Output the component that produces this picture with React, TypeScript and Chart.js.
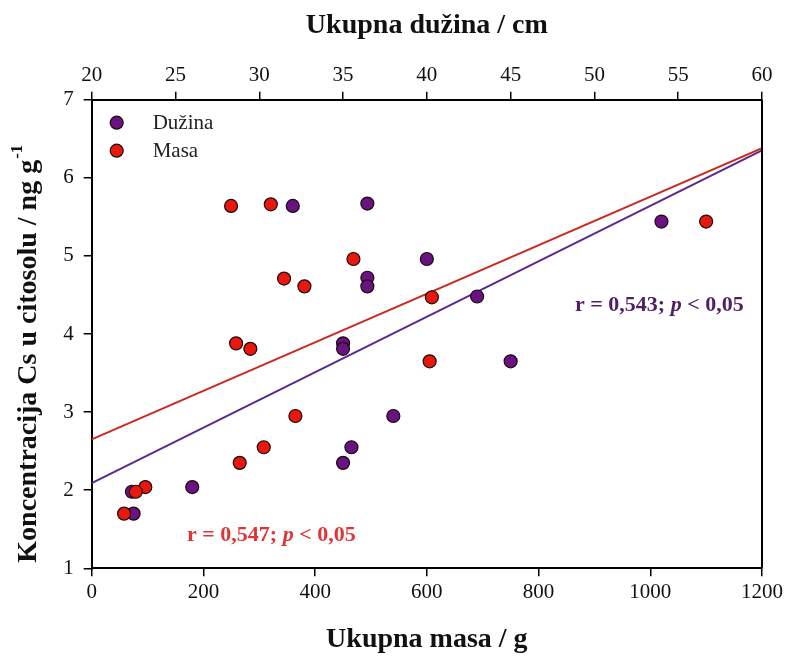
import React, { useEffect, useRef } from 'react';
import { Chart, registerables } from 'chart.js';
Chart.register(...registerables);

// Data
const masaG = [249.5, 320.6, 468.6, 344.4, 380.8, 609, 1100, 258.5, 284, 605, 364.7, 308, 265, 96, 79, 58];
const duzinaCm = [32, 36.45, 40, 36.45, 36.45, 43, 54, 35, 35, 45, 38, 35.5, 35, 26, 22.4, 22.5];
const csMasa = [5.64, 5.66, 4.96, 4.71, 4.61, 4.47, 5.44, 3.88, 3.81, 3.65, 2.95, 2.55, 2.35, 2.04, 1.98, 1.7];
const csDuzina = [5.64, 5.67, 4.96, 4.72, 4.61, 4.48, 5.44, 3.88, 3.81, 3.65, 2.95, 2.55, 2.35, 2.04, 1.98, 1.7];

const fitMasaX = [0, 1200];
const fitMasaY = [2.65, 6.38];
const fitDuzinaX = [20, 60];
const fitDuzinaY = [2.09, 6.35];

const seriesLabels = ['Dužina', 'Masa'];
const statDuzina = ['r = 0,543; ', 'p', ' < 0,05'];
const statMasa = ['r = 0,547; ', 'p', ' < 0,05'];

const PURPLE = '#6a1282';
const RED = '#e8180f';
const PURPLE_LINE = '#5c2a8e';
const RED_LINE = '#c92a22';
const SERIF = '"Liberation Serif", "Times New Roman", serif';

export default function App() {
  const ref = useRef<HTMLCanvasElement | null>(null);
  useEffect(() => {
    document.body.style.margin = '0';
    const canvas = ref.current;
    if (!canvas) return;

    const overlay = {
      id: 'overlay',
      afterDraw(chart: any) {
        const { ctx, chartArea } = chart;
        const ca = chartArea;
        ctx.save();
        // right border
        ctx.strokeStyle = '#000';
        ctx.lineWidth = 2;
        ctx.beginPath();
        ctx.moveTo(ca.right, ca.top);
        ctx.lineTo(ca.right, ca.bottom);
        ctx.stroke();

        // legend
        const colors = [PURPLE, RED];
        seriesLabels.forEach((lab, i) => {
          const cy = ca.top + 23 + i * 28;
          ctx.beginPath();
          ctx.arc(ca.left + 25, cy, 6.5, 0, Math.PI * 2);
          ctx.fillStyle = colors[i];
          ctx.fill();
          ctx.lineWidth = 1.2;
          ctx.strokeStyle = '#1a0a0a';
          ctx.stroke();
          ctx.fillStyle = '#222';
          ctx.font = `21px ${SERIF}`;
          ctx.textAlign = 'left';
          ctx.textBaseline = 'middle';
          ctx.fillText(lab, ca.left + 61, cy + 1);
        });

        // stats annotations
        const drawStat = (parts: string[], x: number, y: number, color: string) => {
          ctx.fillStyle = color;
          ctx.textBaseline = 'middle';
          ctx.textAlign = 'left';
          let cx = x;
          parts.forEach((p, i) => {
            ctx.font = i === 1 ? `italic bold 22px ${SERIF}` : `bold 22px ${SERIF}`;
            ctx.fillText(p, cx, y);
            cx += ctx.measureText(p).width;
          });
        };
        drawStat(statDuzina, 575, 305, '#4f1f66');
        drawStat(statMasa, 187, 535, '#e23434');

        // y axis title with superscript
        ctx.translate(29, ca.top + 463);
        ctx.rotate(-Math.PI / 2);
        ctx.fillStyle = '#111';
        ctx.font = `bold 28px ${SERIF}`;
        ctx.textAlign = 'left';
        ctx.textBaseline = 'middle';
        const main = 'Koncentracija Cs u citosolu / ng g';
        ctx.fillText(main, 0, 0);
        const w = ctx.measureText(main).width;
        ctx.font = `bold 17px ${SERIF}`;
        ctx.fillText('-1', w + 1, -11);
        ctx.restore();
      },
    };

    const gridCommon = {
      drawOnChartArea: false,
      drawTicks: true,
      tickLength: 8,
      color: '#000',
      lineWidth: 1.5,
    };
    const tickFont = { family: SERIF, size: 21 };
    const plain = (v: any) => String(v);

    const chart = new Chart(canvas, {
      type: 'scatter',
      data: {
        datasets: [
          {
            label: seriesLabels[1],
            data: masaG.map((x, i) => ({ x, y: csMasa[i] })),
            xAxisID: 'x',
            backgroundColor: RED,
            borderColor: '#1a0a0a',
            borderWidth: 1.2,
            pointRadius: 6.5,
          },
          {
            label: seriesLabels[0],
            data: duzinaCm.map((x, i) => ({ x, y: csDuzina[i] })),
            xAxisID: 'x2',
            backgroundColor: PURPLE,
            borderColor: '#1a0a0a',
            borderWidth: 1.2,
            pointRadius: 6.5,
          },
          {
            type: 'line',
            label: 'fit masa',
            data: fitMasaX.map((x, i) => ({ x, y: fitMasaY[i] })),
            xAxisID: 'x',
            borderColor: RED_LINE,
            borderWidth: 2,
            pointRadius: 0,
            fill: false,
          },
          {
            type: 'line',
            label: 'fit duzina',
            data: fitDuzinaX.map((x, i) => ({ x, y: fitDuzinaY[i] })),
            xAxisID: 'x2',
            borderColor: PURPLE_LINE,
            borderWidth: 2,
            pointRadius: 0,
            fill: false,
          },
        ] as any,
      },
      options: {
        responsive: false,
        animation: false,
        layout: { padding: { left: 0, right: 24, top: 0, bottom: 0 } },
        plugins: { legend: { display: false }, tooltip: { enabled: false } },
        scales: {
          x: {
            type: 'linear',
            position: 'bottom',
            min: 0,
            max: 1200,
            ticks: { stepSize: 200, color: '#111', font: tickFont, padding: 4, maxRotation: 0, callback: plain },
            grid: gridCommon,
            border: { color: '#000', width: 2 },
            title: {
              display: true,
              text: 'Ukupna masa / g',
              color: '#111',
              font: { family: SERIF, size: 28, weight: 'bold' },
              padding: { top: 0, bottom: 4 },
            },
            afterFit: (s: any) => { s.height = 92.7; },
          },
          x2: {
            type: 'linear',
            position: 'top',
            min: 20,
            max: 60,
            ticks: { stepSize: 5, color: '#111', font: tickFont, padding: 4, maxRotation: 0, callback: plain },
            grid: gridCommon,
            border: { color: '#000', width: 2 },
            title: {
              display: true,
              text: 'Ukupna dužina / cm',
              color: '#111',
              font: { family: SERIF, size: 28, weight: 'bold' },
              padding: { top: 9, bottom: 0 },
            },
            afterFit: (s: any) => { s.height = 99.7; },
          },
          y: {
            type: 'linear',
            position: 'left',
            min: 1,
            max: 7,
            ticks: { stepSize: 1, color: '#111', font: tickFont, padding: 10, callback: plain },
            grid: gridCommon,
            border: { color: '#000', width: 2 },
            afterFit: (s: any) => { s.width = 91.7; },
          },
        },
      } as any,
      plugins: [overlay],
    });
    return () => chart.destroy();
  }, []);

  return (
    <div style={{ width: 787, height: 661, background: '#fff' }}>
      <canvas ref={ref} width={787} height={661} />
    </div>
  );
}
